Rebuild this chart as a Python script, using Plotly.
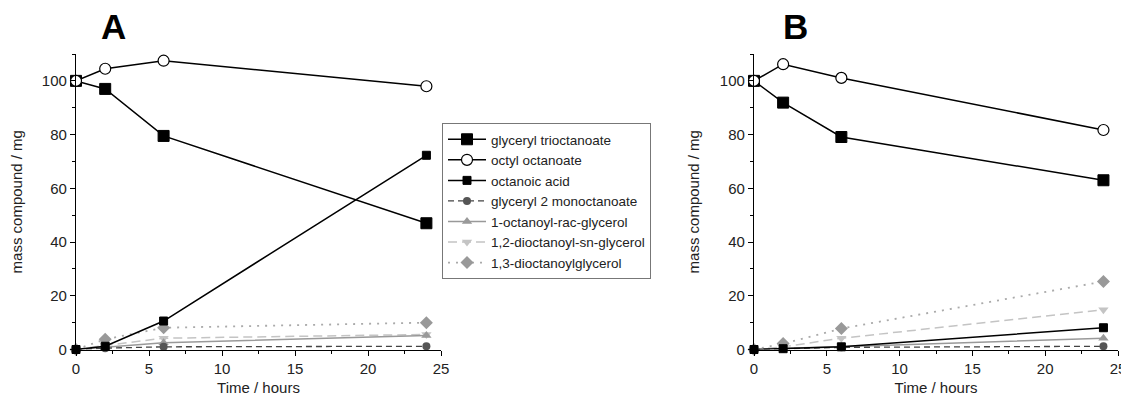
import plotly.graph_objects as go

time_h = [0, 2, 6, 24]

names = [
    "glyceryl trioctanoate",
    "octyl octanoate",
    "octanoic acid",
    "glyceryl 2 monoctanoate",
    "1-octanoyl-rac-glycerol",
    "1,2-dioctanoyl-sn-glycerol",
    "1,3-dioctanoylglycerol",
]

# Panel A
a_trioctanoate = [100, 97, 79.5, 47]
a_octyl_octanoate = [100, 104.5, 107.5, 98]
a_octanoic_acid = [0, 1.2, 10.6, 72.3]
a_mono2 = [0, 0.5, 1.0, 1.2]
a_octanoyl_rac = [0, 0.8, 2.5, 5.2]
a_dioct_12 = [0, 1.5, 4.2, 5.6]
a_dioct_13 = [0, 3.8, 8.1, 10.0]

# Panel B
b_trioctanoate = [100, 91.9, 79.1, 63.0]
b_octyl_octanoate = [100, 106.2, 101.1, 81.7]
b_octanoic_acid = [0, 0.3, 1.0, 8.1]
b_mono2 = [0, 0.3, 0.8, 1.2]
b_octanoyl_rac = [0, 0.5, 1.0, 4.2]
b_dioct_12 = [0, 1.0, 4.2, 14.8]
b_dioct_13 = [0, 2.2, 7.8, 25.3]

panel_a = [a_trioctanoate, a_octyl_octanoate, a_octanoic_acid, a_mono2,
           a_octanoyl_rac, a_dioct_12, a_dioct_13]
panel_b = [b_trioctanoate, b_octyl_octanoate, b_octanoic_acid, b_mono2,
           b_octanoyl_rac, b_dioct_12, b_dioct_13]

styles = [
    dict(line=dict(color="#000000", width=1.5, dash="solid"),
         marker=dict(symbol="square", size=11, color="#000000", line=dict(color="#000000", width=1))),
    dict(line=dict(color="#000000", width=1.5, dash="solid"),
         marker=dict(symbol="circle", size=11, color="#ffffff", line=dict(color="#000000", width=1.2))),
    dict(line=dict(color="#000000", width=1.5, dash="solid"),
         marker=dict(symbol="square", size=8, color="#000000", line=dict(color="#000000", width=1))),
    dict(line=dict(color="#444444", width=1.3, dash="6px,4px"),
         marker=dict(symbol="circle", size=8, color="#555555", line=dict(width=0))),
    dict(line=dict(color="#999999", width=1.5, dash="solid"),
         marker=dict(symbol="triangle-up", size=9, color="#999999", line=dict(width=0))),
    dict(line=dict(color="#c4c4c4", width=1.5, dash="9px,5px"),
         marker=dict(symbol="triangle-down", size=9, color="#c4c4c4", line=dict(width=0))),
    dict(line=dict(color="#aaaaaa", width=1.8, dash="2px,6px"),
         marker=dict(symbol="diamond", size=10, color="#999999", line=dict(width=0))),
]

fig = go.Figure()

# draw grey series first so the black ones stay on top
draw_order = [6, 5, 4, 3, 2, 0, 1]
for idx in draw_order:
    for series, xa, ya, show in [(panel_a, "x", "y", True), (panel_b, "x2", "y2", False)]:
        fig.add_trace(go.Scatter(
            x=time_h, y=series[idx], mode="lines+markers", name=names[idx],
            xaxis=xa, yaxis=ya, showlegend=show, cliponaxis=False,
            legendrank=idx + 1,
            line=styles[idx]["line"], marker=styles[idx]["marker"],
        ))

font_family = "Liberation Sans, Arial, sans-serif"
tick_font = dict(family=font_family, size=15, color="#222222")

def xaxis_cfg(domain, anchor):
    return dict(
        domain=domain, anchor=anchor, range=[0, 25], tickvals=[0, 5, 10, 15, 20, 25],
        ticks="outside", ticklen=5, tickwidth=1.2, tickcolor="#000",
        minor=dict(ticks="outside", ticklen=3, tickwidth=1.2, tickcolor="#000", dtick=2.5, tick0=0),
        showline=True, linecolor="#000", linewidth=1.3, showgrid=False, zeroline=False,
        tickfont=tick_font, automargin=False,
        title=dict(text="Time / hours", font=tick_font, standoff=6),
    )

def yaxis_cfg(domain, anchor):
    return dict(
        domain=domain, anchor=anchor, range=[0, 110], tickvals=[0, 20, 40, 60, 80, 100],
        ticks="outside", ticklen=5, tickwidth=1.2, tickcolor="#000",
        minor=dict(ticks="outside", ticklen=3, tickwidth=1.2, tickcolor="#000", dtick=10, tick0=0),
        showline=True, linecolor="#000", linewidth=1.3, showgrid=False, zeroline=False,
        tickfont=tick_font, automargin=False,
        title=dict(text="mass compound / mg", font=tick_font, standoff=16),
    )

# page has an 8px body margin: figure coords = reference coords - 8
OFF = 8
W, H = 1129 - OFF, 398 - OFF

def px(v):
    return (v - OFF) / W

def py(v):
    return 1 - (v - OFF) / H

ydom = [py(349.5), py(54)]

fig.update_layout(
    width=W, height=H, template="none",
    margin=dict(l=0, r=0, t=0, b=0, autoexpand=False),
    paper_bgcolor="white", plot_bgcolor="white",
    font=dict(family=font_family, size=15, color="#222"),
    xaxis=xaxis_cfg([px(76), px(441)], "y"),
    yaxis=yaxis_cfg(ydom, "x"),
    xaxis2=xaxis_cfg([px(754), px(1118)], "y2"),
    yaxis2=yaxis_cfg(ydom, "x2"),
    legend=dict(
        x=px(442), y=py(123), xanchor="left", yanchor="top",
        bgcolor="white", bordercolor="#777", borderwidth=1,
        font=dict(family=font_family, size=13.5, color="#222"),
        traceorder="normal", itemwidth=38, tracegroupgap=0,
    ),
    annotations=[
        dict(text="<b>A</b>", x=px(113), y=py(26), xref="paper", yref="paper",
             xanchor="center", yanchor="middle",
             showarrow=False, font=dict(family=font_family, size=35, color="#000")),
        dict(text="<b>B</b>", x=px(795), y=py(26), xref="paper", yref="paper",
             xanchor="center", yanchor="middle",
             showarrow=False, font=dict(family=font_family, size=35, color="#000")),
    ],
)

fig.write_html("out.html")
